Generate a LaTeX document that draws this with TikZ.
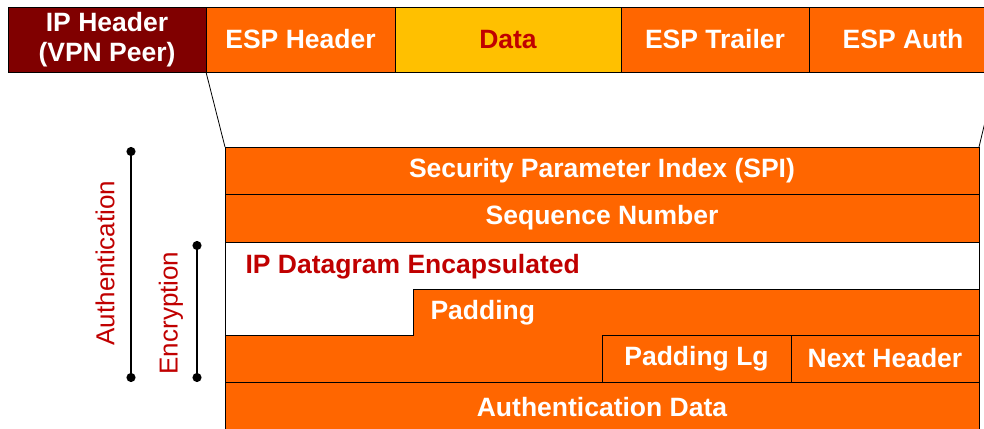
\documentclass[tikz,border=0pt]{standalone}
\usepackage{fontspec}
\setmainfont{Liberation Sans}
\usetikzlibrary{arrows.meta, positioning, calc}
\definecolor{esporange}{HTML}{FF6600}
\definecolor{ipmaroon}{HTML}{800000}
\definecolor{datagold}{HTML}{FFC000}
\definecolor{labelred}{HTML}{C00000}
\tikzset{
	field style/.style={
		draw=black,
		line width=0.8pt,
		fill=esporange,
		text=white,
		inner sep=0pt,
		outer sep=0pt,
		font=\fontsize{26.5}{30}\selectfont\bfseries
	},
	top field/.style={
		field style,
		minimum height=65pt,
		minimum width=#1
	},
	row field/.style={
		field style,
		minimum height=47pt,
		minimum width=754pt,
		anchor=north west
	},
	zoom line style/.style={
		black,
		line width=0.8pt
	},
	scope bar style/.style={
		black,
		line width=1.6pt,
		{Circle[length=9pt]}-{Circle[length=9pt]}
	},
	scope label style/.style={
		labelred,
		rotate=90,
		font=\fontsize{26}{30}\selectfont
	}
}

\begin{document}
\begin{tikzpicture}[x=1pt, y=-1pt]
		
		\useasboundingbox (0,0) rectangle (984,428);
		
		% --- 1. Outer packet (top row) ---
		\node[top field=198pt, fill=ipmaroon, align=center, anchor=north west] (ipHeader) at (8,7) {IP Header\\(VPN Peer)};
		\node[top field=189pt, right=0pt of ipHeader] (espHeader) {ESP Header};
		\node[top field=226pt, right=0pt of espHeader, fill=datagold, text=labelred] (data) {Data};
		\node[top field=188pt, right=0pt of data] (espTrailer) {ESP Trailer};
		\node[top field=188pt, right=0pt of espTrailer] (espAuth) {ESP Auth};
		
		% --- 2. ESP packet layout (lower table) ---
		\node[row field] (spi) at (225,147) {Security Parameter Index (SPI)};
		\node[row field, minimum height=48pt, below=0pt of spi] (seq) {Sequence Number};
		\node[row field, minimum height=93pt, below=0pt of seq, fill=white] (payload) {};
		
		% padding area wraps round the end of the payload
		\draw[zoom line style, fill=esporange]
			(413,289) -- (979,289) -- (979,382) -- (225,382) -- (225,335) -- (413,335) -- cycle;
		
		\node[field style, minimum width=189pt, minimum height=47pt, anchor=north west] (padLength) at (602,335) {Padding Lg};
		\node[field style, minimum width=188pt, minimum height=47pt, right=0pt of padLength] (nextHeader) {Next Header};
		\node[row field, minimum height=50pt] (authData) at (225,382) {Authentication Data};
		
		\node[anchor=west, text=labelred, font=\fontsize{26.5}{30}\selectfont\bfseries] (payloadLabel) at (242,267) {IP Datagram Encapsulated};
		\node[anchor=west, text=white, font=\fontsize{26.5}{30}\selectfont\bfseries] (paddingLabel) at (427,313) {Padding};
		
		% --- 3. Zoom lines from the ESP part to the table ---
		\draw[zoom line style] (espHeader.south west) -- (spi.north west);
		\draw[zoom line style] (espAuth.south east) -- (spi.north east);
		
		% --- 4. Coverage bars ---
		\coordinate (authTop) at (131,147);
		\coordinate (authBottom) at (131,382);
		\coordinate (encTop) at (197,241);
		\coordinate (encBottom) at (197,382);
		\draw[scope bar style] (authTop) -- (authBottom);
		\draw[scope bar style] (encTop) -- (encBottom);
		
		\node[scope label style] (authLabel) at (105,263) {Authentication};
		\node[scope label style] (encLabel) at (171,313) {Encryption};
		
	\end{tikzpicture}
\end{document}
